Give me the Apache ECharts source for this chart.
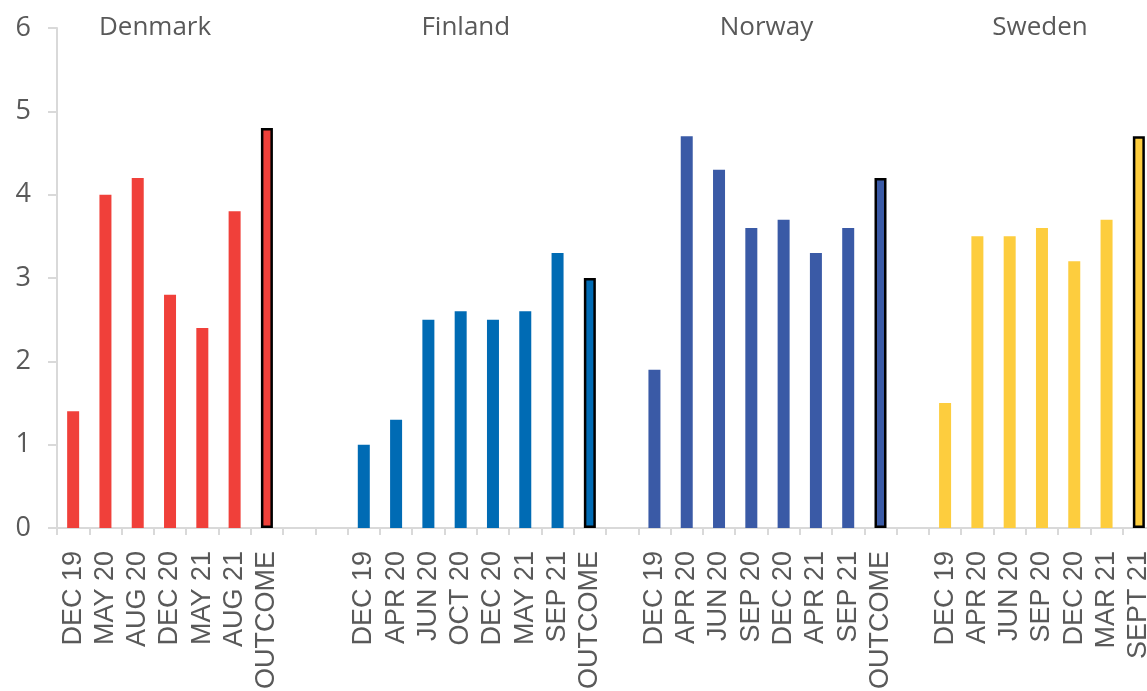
<!DOCTYPE html>
<html>
<head>
<meta charset="utf-8">
<script src="https://cdn.jsdelivr.net/npm/echarts@6/dist/echarts.min.js"></script>
<style>
  html, body { margin: 0; padding: 0; background: #fff; }
  #chart { width: 1147px; height: 691px; }
</style>
</head>
<body>
<div id="chart"></div>
<script>
// Survey rounds and outcome per country
const countries = ['Denmark', 'Finland', 'Norway', 'Sweden'];

const denmarkLabels = ['DEC 19', 'MAY 20', 'AUG 20', 'DEC 20', 'MAY 21', 'AUG 21', 'OUTCOME'];
const denmarkValues = [1.4, 4.0, 4.2, 2.8, 2.4, 3.8, 4.8];

const finlandLabels = ['DEC 19', 'APR 20', 'JUN 20', 'OCT 20', 'DEC 20', 'MAY 21', 'SEP 21', 'OUTCOME'];
const finlandValues = [1.0, 1.3, 2.5, 2.6, 2.5, 2.6, 3.3, 3.0];

const norwayLabels = ['DEC 19', 'APR 20', 'JUN 20', 'SEP 20', 'DEC 20', 'APR 21', 'SEP 21', 'OUTCOME'];
const norwayValues = [1.9, 4.7, 4.3, 3.6, 3.7, 3.3, 3.6, 4.2];

const swedenLabels = ['DEC 19', 'APR 20', 'JUN 20', 'SEP 20', 'DEC 20', 'MAR 21', 'SEPT 21'];
const swedenValues = [1.5, 3.5, 3.5, 3.6, 3.2, 3.7, 4.7];

const yTicks = [0, 1, 2, 3, 4, 5, 6];

// Styling per country group; the final bar of each group gets a black outline
const groups = [
  { name: countries[0], labels: denmarkLabels, values: denmarkValues, color: '#f0403a', gapAfter: 2, titleShift: -15 },
  { name: countries[1], labels: finlandLabels, values: finlandValues, color: '#006bb4', gapAfter: 1, titleShift: -11 },
  { name: countries[2], labels: norwayLabels, values: norwayValues, color: '#3a5aa6', gapAfter: 1, titleShift: -1 },
  { name: countries[3], labels: swedenLabels, values: swedenValues, color: '#fdcd3e', gapAfter: 0, titleShift: -2 }
];

const LABEL_FONT = 'Liberation Sans';
const TITLE_FONT = 'Open Sans';
const TEXT_COLOR = '#595959';
const AXIS_COLOR = '#d9d9d9';

const categories = [];
const barData = [];
const groupSpans = [];
groups.forEach(g => {
  const start = categories.length;
  g.labels.forEach((lab, i) => {
    categories.push(lab);
    const outlined = i === g.labels.length - 1;
    barData.push({
      value: g.values[i],
      itemStyle: outlined
        ? { color: g.color, borderColor: '#000', borderWidth: 2.5 }
        : { color: g.color }
    });
  });
  groupSpans.push({ name: g.name, start: start, end: categories.length - 1, shift: g.titleShift });
  for (let k = 0; k < g.gapAfter; k++) {
    categories.push('');
    barData.push('-');
  }
});

const chart = echarts.init(document.getElementById('chart'), null, { renderer: 'canvas' });

chart.setOption({
  animation: false,
  backgroundColor: '#ffffff',
  grid: { left: 57, right: -8, top: 28, bottom: 163, containLabel: false, outerBoundsMode: 'none' },
  xAxis: {
    type: 'category',
    data: categories,
    boundaryGap: true,
    axisLine: { show: true, lineStyle: { color: AXIS_COLOR, width: 2 } },
    axisTick: { show: true, interval: 0, length: 7, lineStyle: { color: AXIS_COLOR, width: 2 } },
    axisLabel: {
      interval: 0,
      rotate: 90,
      margin: 23,
      fontFamily: LABEL_FONT,
      fontSize: 27,
      color: TEXT_COLOR
    },
    splitLine: { show: false }
  },
  yAxis: {
    type: 'value',
    min: yTicks[0],
    max: yTicks[yTicks.length - 1],
    interval: 1,
    axisLine: { show: true, lineStyle: { color: AXIS_COLOR, width: 2 } },
    axisTick: { show: true, length: 9, lineStyle: { color: AXIS_COLOR, width: 2 } },
    axisLabel: {
      margin: 26,
      fontFamily: TITLE_FONT,
      fontSize: 27,
      color: TEXT_COLOR
    },
    splitLine: { show: false }
  },
  series: [{
    type: 'bar',
    data: barData,
    barWidth: 12
  }]
});

// Country names above each group, positioned from the group's category span
function placeTitles() {
  const elements = groupSpans.map(s => {
    const x0 = chart.convertToPixel({ xAxisIndex: 0 }, s.start);
    const x1 = chart.convertToPixel({ xAxisIndex: 0 }, s.end);
    return {
      type: 'text',
      x: (x0 + x1) / 2 + s.shift,
      y: 28,
      style: {
        text: s.name,
        font: '26px "' + TITLE_FONT + '"',
        fill: TEXT_COLOR,
        align: 'center',
        verticalAlign: 'middle'
      }
    };
  });
  chart.setOption({ graphic: elements });
}
placeTitles();
</script>
</body>
</html>
